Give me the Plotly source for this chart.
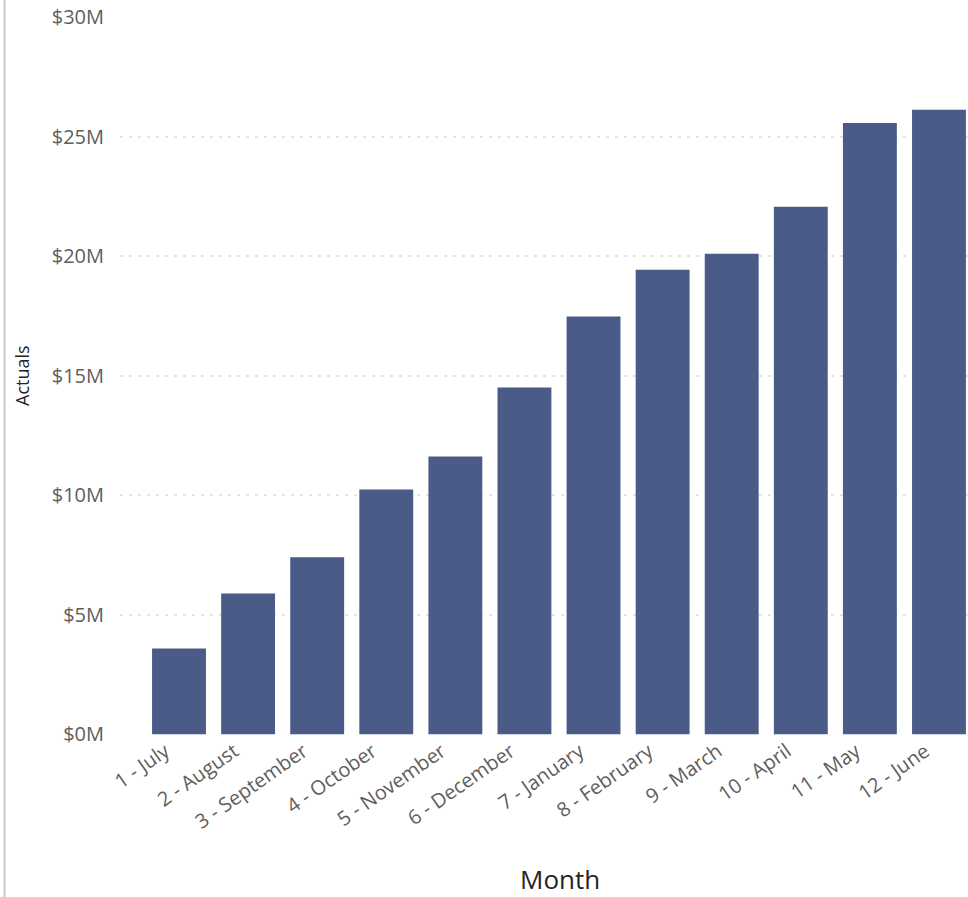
import plotly.graph_objects as go

months = ["1 - July", "2 - August", "3 - September", "4 - October", "5 - November",
          "6 - December", "7 - January", "8 - February", "9 - March", "10 - April",
          "11 - May", "12 - June"]
actuals = [3.59e6, 5.89e6, 7.40e6, 10.24e6, 11.62e6, 14.50e6, 17.47e6, 19.43e6,
           20.10e6, 22.06e6, 25.57e6, 26.12e6]
y_ticks = [0, 5e6, 10e6, 15e6, 20e6, 25e6, 30e6]
y_tick_labels = ["$0M", "$5M", "$10M", "$15M", "$20M", "$25M", "$30M"]

W, H = 968, 897
L, R, T, B = 120, 0, 17, 162

fig = go.Figure(go.Bar(x=list(range(len(months))), y=actuals, marker_color="#4A5B88",
                       marker_line_width=0))

font = "Open Sans, Segoe UI, sans-serif"
fig.update_layout(
    width=W, height=H,
    margin=dict(l=L, r=R, t=T, b=B),
    paper_bgcolor="white", plot_bgcolor="white",
    bargap=0.22,
    showlegend=False,
    font=dict(family=font, color="#605E5C"),
)
fig.update_xaxes(
    range=[-0.854, 11.42],
    tickmode="array", tickvals=[i - 0.2 for i in range(len(months))], ticktext=months,
    tickangle=-35, tickfont=dict(size=20, color="#605E5C"),
    showgrid=False, zeroline=False, showline=False,
    ticks="", ticklen=0,
)
fig.update_yaxes(
    range=[-0.03e6, 30e6],
    tickmode="array", tickvals=y_ticks, ticktext=y_tick_labels,
    tickfont=dict(size=20, color="#605E5C"),
    showgrid=True, gridcolor="#E4E4E4", griddash="3px,6px", gridwidth=2,
    zeroline=False, showline=False,
    ticks="outside", ticklen=11, tickcolor="white",
)
pw = W - L - R
ph = H - T - B
fig.add_annotation(text="Month", xref="paper", yref="paper",
                   x=(560 - L) / pw, y=-(879 - (H - B)) / ph,
                   showarrow=False, font=dict(size=26, color="#252423", family=font),
                   xanchor="center", yanchor="middle")
fig.add_annotation(text="Actuals", xref="paper", yref="paper",
                   x=(22 - L) / pw, y=(376 - T) / ph * -1 + 1, textangle=-90,
                   showarrow=False, font=dict(size=18, color="#252423", family=font),
                   xanchor="center", yanchor="middle")
fig.add_shape(type="line", xref="paper", yref="paper",
              x0=(4.5 - L) / pw, x1=(4.5 - L) / pw, y0=-B / ph, y1=1 + T / ph,
              line=dict(color="#C8C8C8", width=2))

fig.write_html("out.html", config={"displayModeBar": False},
               post_script="document.body.style.margin='0';document.body.style.overflow='hidden';")
